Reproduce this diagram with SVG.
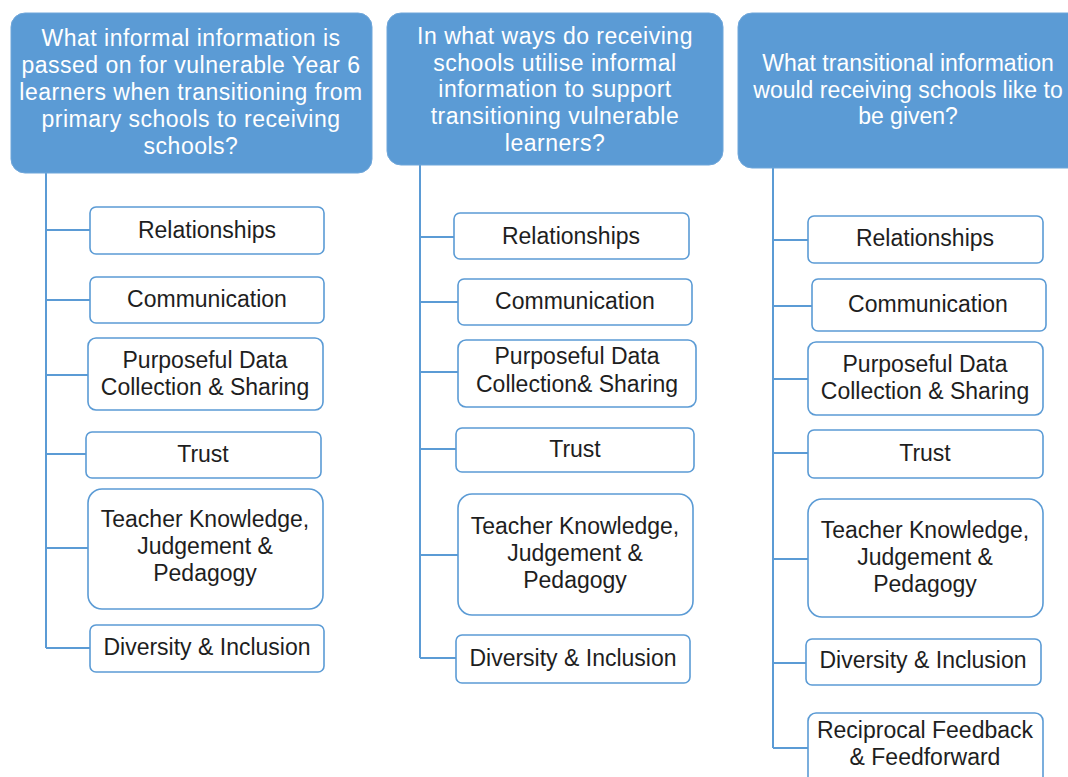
<svg xmlns="http://www.w3.org/2000/svg" width="1068" height="777" viewBox="0 0 1068 777">
<style>
.hdr{fill:#5B9BD5;stroke:#6FA6DA;stroke-width:1}
.hdr-t{font-family:"Liberation Sans",Arial,sans-serif;font-size:23px;letter-spacing:0.5px;fill:#ffffff;text-anchor:middle}
.hdr-t.narrow{letter-spacing:0}
.box{fill:#ffffff;stroke:#5B9BD5;stroke-width:1.6}
.t{font-family:"Liberation Sans",Arial,sans-serif;font-size:23px;fill:#1e1e1e;text-anchor:middle}
.con{stroke:#5B9BD5;stroke-width:2;fill:none}
</style>
<rect width="1068" height="777" fill="#ffffff"/>
<g id="connectors">
<path class="con" d="M46,173 V648 M46,230 H90 M46,300 H90 M46,375 H88 M46,454 H86 M46,548 H88 M46,648 H90"/>
<path class="con" d="M420,165 V658 M420,237 H454 M420,302 H458 M420,372 H458 M420,449 H456 M420,555 H458 M420,658 H456"/>
<path class="con" d="M773,168 V748 M773,240 H808 M773,306 H812 M773,379 H808 M773,453 H808 M773,559 H808 M773,663 H806 M773,748 H808"/>
</g>
<g id="h1"><rect class="hdr" x="11" y="13" width="361" height="160" rx="14"/>
<text class="hdr-t" x="191" y="46">What informal information is<tspan x="191" dy="27">passed on for vulnerable Year 6</tspan><tspan x="191" dy="27">learners when transitioning from</tspan><tspan x="191" dy="27">primary schools to receiving</tspan><tspan x="191" dy="27">schools?</tspan></text></g>
<g id="h2"><rect class="hdr" x="387" y="13" width="336" height="152" rx="14"/>
<text class="hdr-t" x="555" y="44">In what ways do receiving<tspan x="555" dy="26.7">schools utilise informal</tspan><tspan x="555" dy="26.7">information to support</tspan><tspan x="555" dy="26.7">transitioning vulnerable</tspan><tspan x="555" dy="26.7">learners?</tspan></text></g>
<g id="h3"><rect class="hdr" x="738" y="13" width="345" height="155" rx="14"/>
<text class="hdr-t narrow" x="908" y="71">What transitional information<tspan x="908" dy="26.7">would receiving schools like to</tspan><tspan x="908" dy="26.7">be given?</tspan></text></g>

<g id="c1-rel"><rect class="box" x="90" y="207" width="234" height="47" rx="6"/><text class="t" x="207" y="238">Relationships</text></g>
<g id="c1-com"><rect class="box" x="90" y="277" width="234" height="46" rx="6"/><text class="t" x="207" y="307">Communication</text></g>
<g id="c1-pur"><rect class="box" x="88" y="338" width="235" height="72" rx="8"/><text class="t" x="205" y="368">Purposeful Data<tspan x="205" dy="27">Collection &amp; Sharing</tspan></text></g>
<g id="c1-tru"><rect class="box" x="86" y="432" width="235" height="46" rx="6"/><text class="t" x="203" y="462">Trust</text></g>
<g id="c1-tea"><rect class="box" x="88" y="489" width="235" height="120" rx="14"/><text class="t" x="205" y="527">Teacher Knowledge,<tspan x="205" dy="27">Judgement &amp;</tspan><tspan x="205" dy="27">Pedagogy</tspan></text></g>
<g id="c1-div"><rect class="box" x="90" y="625" width="234" height="47" rx="6"/><text class="t" x="207" y="655">Diversity &amp; Inclusion</text></g>

<g id="c2-rel"><rect class="box" x="454" y="213" width="235" height="46" rx="6"/><text class="t" x="571" y="244">Relationships</text></g>
<g id="c2-com"><rect class="box" x="458" y="279" width="234" height="46" rx="6"/><text class="t" x="575" y="309">Communication</text></g>
<g id="c2-pur"><rect class="box" x="458" y="340" width="238" height="67" rx="8"/><text class="t" x="577" y="364">Purposeful Data<tspan x="577" dy="28">Collection&amp; Sharing</tspan></text></g>
<g id="c2-tru"><rect class="box" x="456" y="428" width="238" height="44" rx="6"/><text class="t" x="575" y="457">Trust</text></g>
<g id="c2-tea"><rect class="box" x="458" y="494" width="235" height="121" rx="14"/><text class="t" x="575" y="534">Teacher Knowledge,<tspan x="575" dy="27">Judgement &amp;</tspan><tspan x="575" dy="27">Pedagogy</tspan></text></g>
<g id="c2-div"><rect class="box" x="456" y="635" width="234" height="48" rx="6"/><text class="t" x="573" y="666">Diversity &amp; Inclusion</text></g>

<g id="c3-rel"><rect class="box" x="808" y="216" width="235" height="47" rx="6"/><text class="t" x="925" y="246">Relationships</text></g>
<g id="c3-com"><rect class="box" x="812" y="279" width="234" height="52" rx="6"/><text class="t" x="928" y="312">Communication</text></g>
<g id="c3-pur"><rect class="box" x="808" y="342" width="235" height="73" rx="8"/><text class="t" x="925" y="372">Purposeful Data<tspan x="925" dy="27">Collection &amp; Sharing</tspan></text></g>
<g id="c3-tru"><rect class="box" x="808" y="430" width="235" height="48" rx="6"/><text class="t" x="925" y="461">Trust</text></g>
<g id="c3-tea"><rect class="box" x="808" y="499" width="235" height="118" rx="14"/><text class="t" x="925" y="538">Teacher Knowledge,<tspan x="925" dy="27">Judgement &amp;</tspan><tspan x="925" dy="27">Pedagogy</tspan></text></g>
<g id="c3-div"><rect class="box" x="806" y="639" width="235" height="46" rx="6"/><text class="t" x="923" y="668">Diversity &amp; Inclusion</text></g>
<g id="c3-rec"><rect class="box" x="808" y="713" width="235" height="80" rx="8"/><text class="t" x="925" y="738">Reciprocal Feedback<tspan x="925" dy="27">&amp; Feedforward</tspan></text></g>
</svg>
